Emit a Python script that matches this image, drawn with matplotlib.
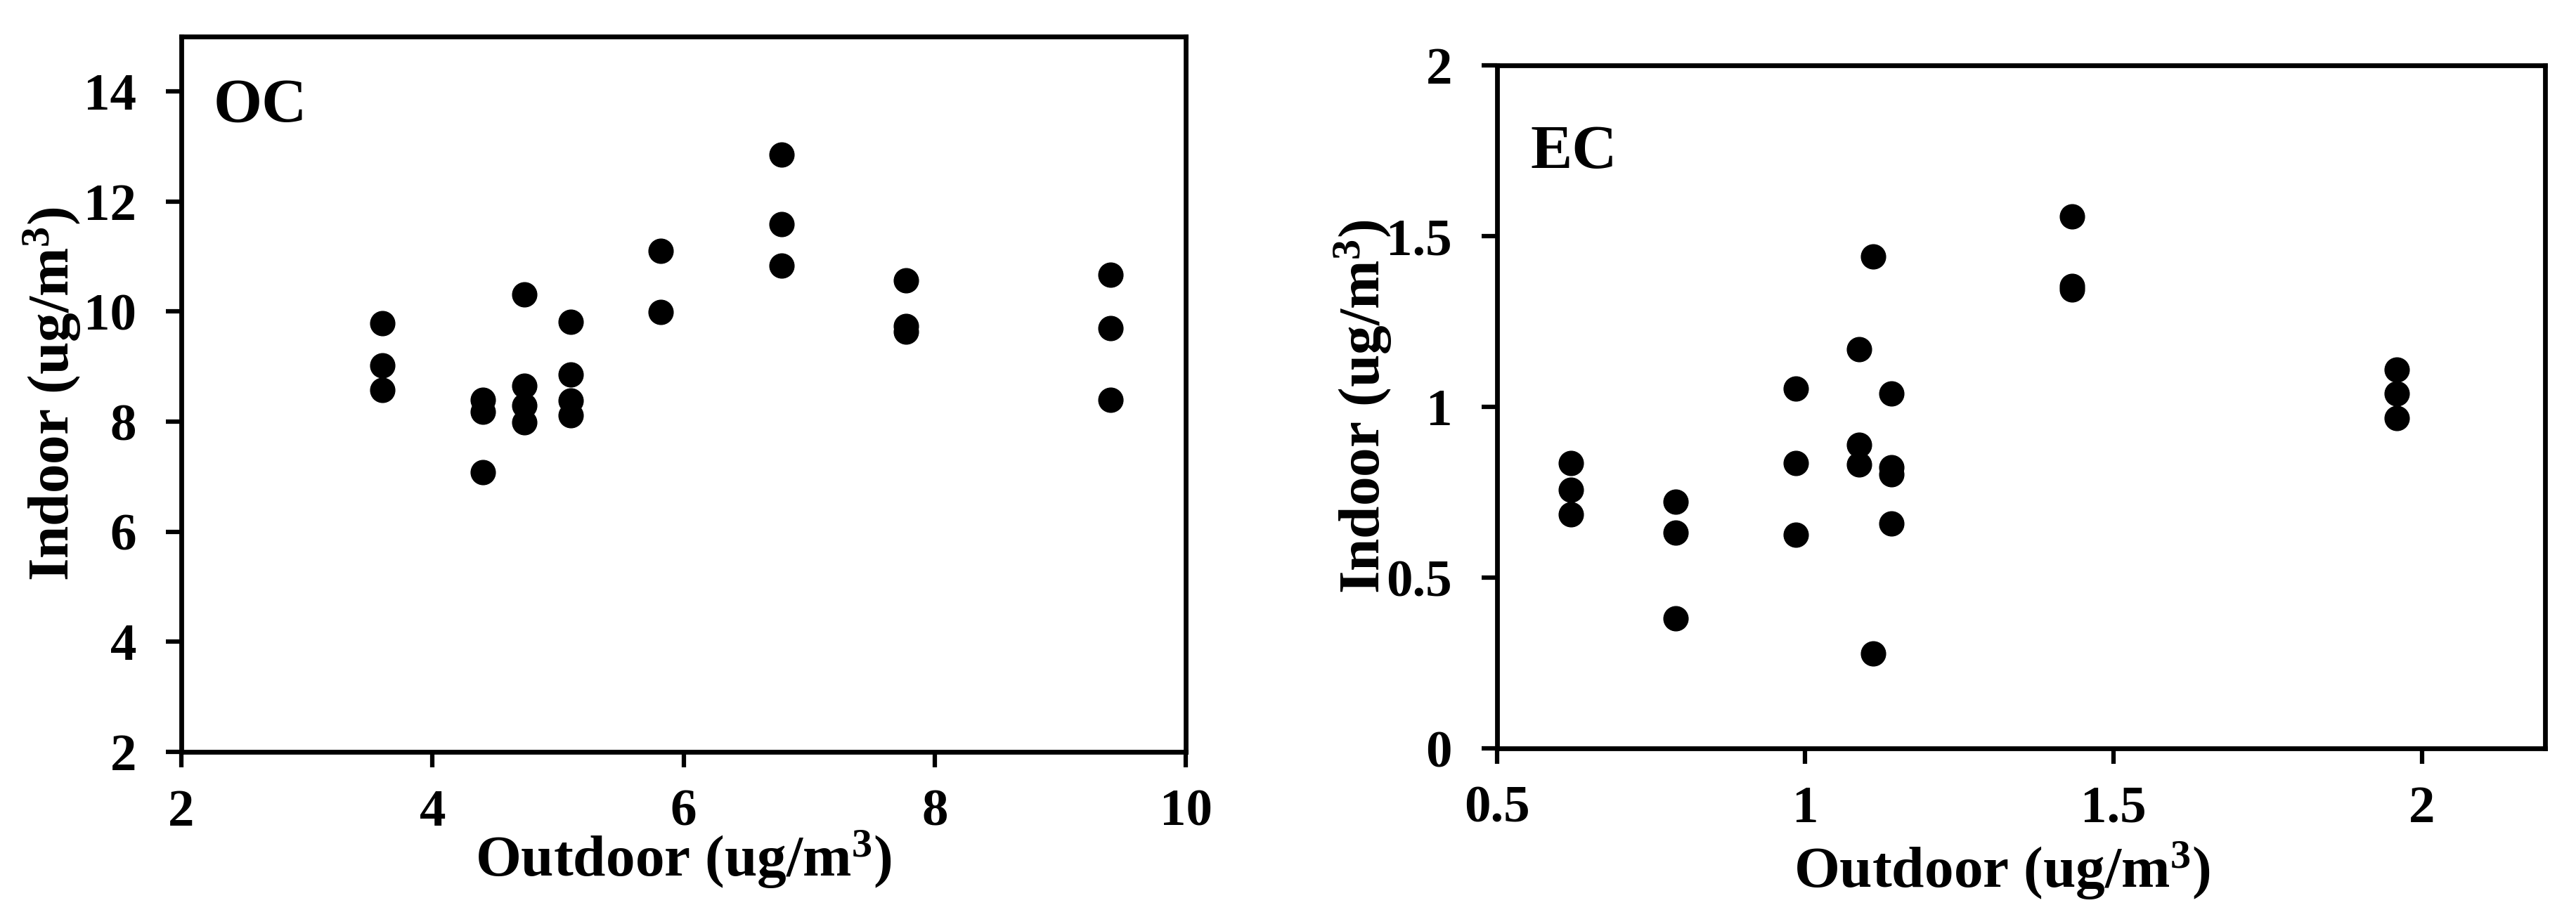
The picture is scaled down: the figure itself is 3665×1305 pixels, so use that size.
import matplotlib
matplotlib.use("Agg")
import matplotlib.pyplot as plt
from matplotlib.ticker import FuncFormatter

# OC: outdoor vs indoor (ug/m3)
oc_outdoor = [3.6, 3.6, 3.6, 4.4, 4.4, 4.4, 4.73, 4.73, 4.73, 4.73,
              5.1, 5.1, 5.1, 5.1, 5.82, 5.82, 6.78, 6.78, 6.78,
              7.77, 7.77, 7.77, 9.4, 9.4, 9.4]
oc_indoor = [9.79, 9.02, 8.58, 8.40, 8.18, 7.08, 10.31, 8.65, 8.29, 7.99,
             9.82, 8.86, 8.39, 8.11, 11.11, 9.99, 12.85, 11.59, 10.83,
             10.57, 9.74, 9.64, 10.67, 9.70, 8.40]

# EC: outdoor vs indoor (ug/m3)
ec_outdoor = [0.62, 0.62, 0.62, 0.79, 0.79, 0.79, 0.985, 0.985, 0.985,
              1.087, 1.087, 1.087, 1.11, 1.11, 1.14, 1.14, 1.14, 1.14,
              1.433, 1.433, 1.433, 1.96, 1.96, 1.96]
ec_indoor = [0.835, 0.757, 0.686, 0.722, 0.632, 0.380, 1.054, 0.835, 0.626,
             1.169, 0.888, 0.831, 1.441, 0.278, 1.040, 0.823, 0.802, 0.658,
             1.558, 1.354, 1.344, 1.109, 1.040, 0.967]

oc_xticks = [2, 4, 6, 8, 10]
oc_yticks = [2, 4, 6, 8, 10, 12, 14]
ec_xticks = [0.5, 1, 1.5, 2]
ec_yticks = [0, 0.5, 1, 1.5, 2]

plt.rcParams['font.family'] = ['Liberation Serif', 'DejaVu Serif']
plt.rcParams['font.weight'] = 'bold'
plt.rcParams['mathtext.fontset'] = 'custom'
plt.rcParams['mathtext.rm'] = 'Liberation Serif:bold'
plt.rcParams['mathtext.bf'] = 'Liberation Serif:bold'
plt.rcParams['mathtext.default'] = 'rm'

fig = plt.figure(figsize=(36.66, 13.05), dpi=100)
ax1 = fig.add_axes([0.0704, 0.1801, 0.3898, 0.7801])
ax2 = fig.add_axes([0.5810, 0.1839, 0.4067, 0.7448])

fmt = FuncFormatter(lambda v, p: f"{v:g}")


def style(ax, xticks, yticks, xlim, ylim, tag, tag_y, xlab_pos):
    ax.set_xlim(*xlim)
    ax.set_ylim(*ylim)
    ax.set_xticks(xticks)
    ax.set_yticks(yticks)
    ax.xaxis.set_major_formatter(fmt)
    ax.yaxis.set_major_formatter(fmt)
    for s in ax.spines.values():
        s.set_linewidth(4.9)
    ax.tick_params(direction='out', length=16, width=4.5, labelsize=54)
    ax.tick_params(axis='y', pad=30)
    ax.tick_params(axis='x', pad=22)
    for lab in ax.get_xticklabels() + ax.get_yticklabels():
        lab.set_fontweight('bold')
    ax.set_xlabel("Outdoor (ug/m$^{3}$)", fontsize=60, fontweight='bold')
    ax.set_ylabel("Indoor (ug/m$^{3}$)", fontsize=60, fontweight='bold')
    ax.xaxis.label.set_va('baseline')
    ax.yaxis.label.set_va('baseline')
    ax.xaxis.set_label_coords(*xlab_pos)
    ax.yaxis.set_label_coords(-0.112, 0.5)
    ax.text(0.032, tag_y, tag, transform=ax.transAxes, fontsize=64,
            fontweight='bold', va='baseline', ha='left')


ax1.plot(oc_outdoor, oc_indoor, 'o', color='black', markersize=25, linestyle='none')
style(ax1, oc_xticks, oc_yticks, (2, 10), (2, 15), "OC", 0.881, (0.5, -0.174))

ax2.plot(ec_outdoor, ec_indoor, 'o', color='black', markersize=25, linestyle='none')
style(ax2, ec_xticks, ec_yticks, (0.5, 2.2), (0, 2), "EC", 0.850, (0.482, -0.204))

fig.savefig("out.png", dpi=100)
